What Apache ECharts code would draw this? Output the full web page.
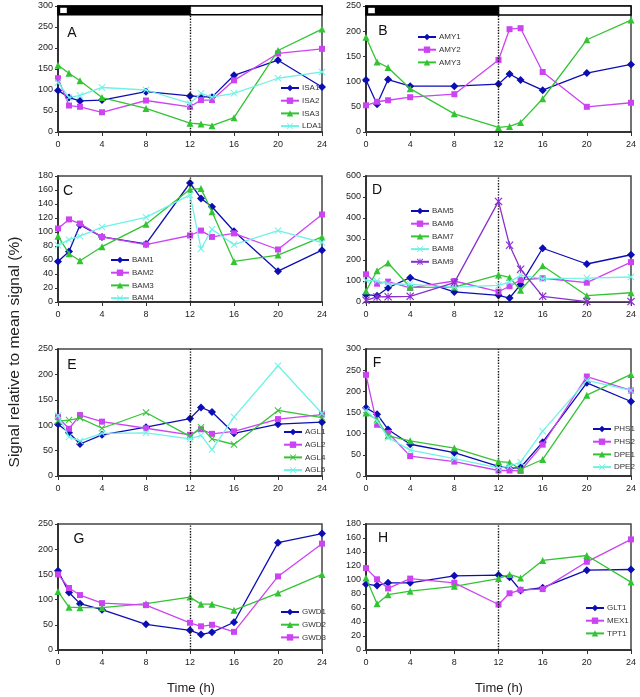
<!DOCTYPE html>
<html>
<head>
<meta charset="utf-8">
<script src="https://cdn.jsdelivr.net/npm/echarts@6/dist/echarts.min.js"></script>
<style>
html,body{margin:0;padding:0;background:#fff;}
#chart{width:640px;height:697px;}
</style>
</head>
<body>
<div id="chart"></div>
<script>
// ---------- data ----------
const hours = [0, 1, 2, 4, 8, 12, 13, 14, 16, 20, 24];
const xTicks = [0, 4, 8, 12, 16, 20, 24];

// Panel A
const ISA1 = [99, 82, 74, 76, 96, 86, 84, 83, 135, 171, 107];
const ISA2 = [128, 63, 60, 47, 75, 60, 76, 76, 123, 187, 198];
const ISA3 = [159, 140, 122, 82, 56, 21, 19, 15, 34, 194, 245];
const LDA1 = [118, 82, 87, 106, 100, 68, 92, 83, 92, 128, 143];
// Panel B
const AMY1 = [103, 55, 104, 91, 91, 95, 115, 103, 83, 117, 134];
const AMY2 = [53, 60, 63, 69, 75, 143, 204, 206, 119, 50, 58];
const AMY3 = [188, 139, 128, 86, 36, 9, 11, 19, 66, 183, 222];
// Panel C
const BAM1 = [58, 72, 110, 93, 83, 170, 148, 136, 101, 44, 74];
const BAM2 = [105, 118, 112, 93, 82, 95, 102, 93, 98, 75, 125];
const BAM3 = [94, 69, 59, 79, 111, 161, 162, 129, 58, 67, 93];
const BAM4 = [81, 89, 94, 107, 121, 153, 76, 104, 82, 102, 85];
// Panel D
const BAM5 = [35, 30, 68, 116, 48, 32, 19, 83, 256, 181, 225];
const BAM6 = [132, 87, 97, 67, 100, 49, 75, 105, 113, 92, 190];
const BAM7 = [52, 149, 186, 70, 71, 129, 117, 56, 173, 30, 44];
const BAM8 = [103, 100, 87, 84, 71, 79, 95, 127, 111, 114, 119];
const BAM9 = [8, 24, 25, 27, 92, 479, 270, 156, 27, 2, 2];
// Panel E
const AGL1 = [102, 85, 63, 81, 96, 113, 135, 126, 84, 102, 106];
const AGL2 = [116, 93, 120, 107, 94, 81, 92, 83, 88, 112, 121];
const AGL4 = [108, 110, 114, 94, 125, 78, 96, 73, 62, 129, 115];
const AGL5 = [119, 77, 69, 84, 85, 73, 80, 52, 116, 217, 123];
// Panel F
const PHS1 = [161, 146, 110, 75, 55, 23, 18, 20, 80, 220, 176];
const PHS2 = [239, 121, 102, 47, 34, 13, 13, 12, 74, 235, 202];
const DPE1 = [149, 133, 95, 83, 66, 34, 32, 16, 39, 191, 240];
const DPE2 = [155, 130, 91, 61, 41, 19, 23, 33, 106, 226, 202];
// Panel G
const GWD1 = [157, 114, 92, 80, 51, 39, 31, 35, 55, 213, 231];
const GWD2 = [116, 85, 84, 84, 92, 105, 91, 91, 79, 113, 150];
const GWD3 = [150, 123, 109, 93, 89, 54, 47, 50, 36, 146, 211];
// Panel H
const GLT1 = [94, 92, 96, 96, 106, 107, 104, 85, 89, 114, 115];
const MEX1 = [117, 101, 88, 102, 96, 65, 81, 86, 87, 126, 158];
const TPT1 = [103, 66, 79, 84, 91, 102, 108, 103, 128, 135, 97];

// dark / light period bar (hours) for panels A and B
const darkPeriod = [0, 12];
const lightPeriod = [12, 24];

// y-axis ranges per panel
const yMax = [300, 250, 180, 600, 250, 300, 250, 180];
const yStep = [50, 50, 20, 100, 50, 50, 50, 20];
const letters = ['A', 'B', 'C', 'D', 'E', 'F', 'G', 'H'];

const panels = [
  [['ISA1', ISA1], ['ISA2', ISA2], ['ISA3', ISA3], ['LDA1', LDA1]],
  [['AMY1', AMY1], ['AMY2', AMY2], ['AMY3', AMY3]],
  [['BAM1', BAM1], ['BAM2', BAM2], ['BAM3', BAM3], ['BAM4', BAM4]],
  [['BAM5', BAM5], ['BAM6', BAM6], ['BAM7', BAM7], ['BAM8', BAM8], ['BAM9', BAM9]],
  [['AGL1', AGL1], ['AGL2', AGL2], ['AGL4', AGL4], ['AGL5', AGL5]],
  [['PHS1', PHS1], ['PHS2', PHS2], ['DPE1', DPE1], ['DPE2', DPE2]],
  [['GWD1', GWD1], ['GWD2', GWD2], ['GWD3', GWD3]],
  [['GLT1', GLT1], ['MEX1', MEX1], ['TPT1', TPT1]]
];

// ---------- styles ----------
const XPATH = 'path://M0,1L1,0L5,4L9,0L10,1L6,5L10,9L9,10L5,6L1,10L0,9L4,5Z';
const STARPATH = 'path://M0,1L1,0L5,4L9,0L10,1L6,5L10,9L9,10L5,6L1,10L0,9L4,5Z M4.4,0L5.6,0L5.6,10L4.4,10Z';
const STY = {
  blue:    {color: '#0d0db4', symbol: 'diamond',  size: 8},
  magenta: {color: '#cc44f2', symbol: 'rect',     size: 6},
  green:   {color: '#33c433', symbol: 'triangle', size: 7},
  cyanx:   {color: '#6ff2e6', symbol: XPATH,      size: 7},
  greenx:  {color: '#33c433', symbol: XPATH,      size: 7},
  purple:  {color: '#8a2fcf', symbol: STARPATH,   size: 8}
};
const panelStyles = [
  ['blue', 'magenta', 'green', 'cyanx'],
  ['blue', 'magenta', 'green'],
  ['blue', 'magenta', 'green', 'cyanx'],
  ['blue', 'magenta', 'green', 'cyanx', 'purple'],
  ['blue', 'magenta', 'greenx', 'cyanx'],
  ['blue', 'magenta', 'green', 'cyanx'],
  ['blue', 'green', 'magenta'],
  ['blue', 'magenta', 'green']
];

const grids = [
  {left: 58, top: 6, width: 264, height: 126},
  {left: 366, top: 6, width: 265, height: 126},
  {left: 58, top: 176, width: 264, height: 126},
  {left: 366, top: 176, width: 265, height: 126},
  {left: 58, top: 349, width: 264, height: 127},
  {left: 366, top: 349, width: 265, height: 127},
  {left: 58, top: 524, width: 264, height: 126},
  {left: 366, top: 524, width: 265, height: 126}
];
const legendPos = [
  {left: 280, top: 84}, {left: 417, top: 33},
  {left: 110, top: 256}, {left: 410, top: 207},
  {left: 283, top: 428}, {left: 592, top: 425},
  {left: 280, top: 608}, {left: 585, top: 604}
];
const letterPos = [[72, 33], [383, 31], [68, 191], [377, 190], [72, 365], [377, 363], [79, 539], [383, 538]];

const axisFont = {fontFamily: 'Liberation Sans, Arial, sans-serif', fontSize: 9, color: '#222'};

const option = {
  animation: false,
  backgroundColor: '#fff',
  grid: [], xAxis: [], yAxis: [], series: [], legend: [],
  graphic: []
};

panels.forEach((pl, p) => {
  option.grid.push(Object.assign({show: true, borderColor: '#444', borderWidth: 1.5, containLabel: false}, grids[p]));
  option.xAxis.push({
    type: 'value', gridIndex: p, min: 0, max: 24, interval: 4,
    axisLine: {show: true, onZero: false, lineStyle: {color: '#333', width: 2}},
    axisTick: {show: true, inside: false, length: 4, lineStyle: {color: '#333'}},
    axisLabel: Object.assign({margin: 8, formatter: v => xTicks.includes(v) ? String(v) : ''}, axisFont),
    splitLine: {show: false}
  });
  option.yAxis.push({
    type: 'value', gridIndex: p, min: 0, max: yMax[p], interval: yStep[p],
    axisLine: {show: true, onZero: false, lineStyle: {color: '#333', width: 2}},
    axisTick: {show: true, inside: false, length: 3, lineStyle: {color: '#333'}},
    axisLabel: Object.assign({margin: 5}, axisFont),
    splitLine: {show: false}
  });
  const names = [];
  pl.forEach(([name, arr], k) => {
    const st = STY[panelStyles[p][k]];
    names.push(name);
    const s = {
      type: 'line', name: name, xAxisIndex: p, yAxisIndex: p,
      data: hours.map((h, i) => [h, arr[i]]),
      symbol: st.symbol, symbolSize: st.size, showSymbol: true,
      lineStyle: {color: st.color, width: 1.3},
      itemStyle: {color: st.color},
      z: 3 + k
    };
    if (k === 0) {
      s.markLine = {
        silent: true, symbol: ['none', 'none'], label: {show: false},
        lineStyle: {type: 'dotted', color: '#111', width: 1.4},
        data: [{xAxis: 12}]
      };
      if (p === 0 || p === 1) {
        const top = yMax[p];
        const bot = top - (p === 0 ? 21 : 18);
        s.markArea = {
          silent: true, label: {show: false},
          data: [
            [{xAxis: darkPeriod[0], yAxis: bot, itemStyle: {color: '#000', borderColor: '#000', borderWidth: 1.5}},
             {xAxis: darkPeriod[1], yAxis: top}],
            [{xAxis: lightPeriod[0], yAxis: bot, itemStyle: {color: '#fff', borderColor: '#000', borderWidth: 1.5}},
             {xAxis: lightPeriod[1], yAxis: top}],
            [{xAxis: 0.2, yAxis: bot + (top - bot) * 0.2, itemStyle: {color: '#fff', borderColor: '#fff', borderWidth: 0}},
             {xAxis: 0.8, yAxis: top - (top - bot) * 0.2}]
          ]
        };
      }
    }
    option.series.push(s);
  });
  option.legend.push(Object.assign({
    orient: 'vertical', data: names, padding: 0,
    itemWidth: 18, itemHeight: 8, itemGap: 4.7,
    textStyle: {fontFamily: 'Liberation Sans, Arial, sans-serif', fontSize: 8, color: '#333', padding: [0, 0, 0, -2]},
    selectedMode: false
  }, legendPos[p]));
  option.graphic.push({
    type: 'text', x: letterPos[p][0], y: letterPos[p][1], z: 10,
    style: {text: letters[p], fontFamily: 'Liberation Sans, Arial, sans-serif', fontSize: 14, fill: '#111',
            textAlign: 'center', textVerticalAlign: 'middle'}
  });
});

option.graphic.push({
  type: 'text', x: 15, y: 352, rotation: Math.PI / 2, z: 10,
  style: {text: 'Signal relative to mean signal (%)', fontFamily: 'Liberation Sans, Arial, sans-serif',
          fontSize: 15.5, fill: '#222', textAlign: 'center', textVerticalAlign: 'middle'}
});
option.graphic.push({
  type: 'text', x: 191, y: 688, z: 10,
  style: {text: 'Time (h)', fontFamily: 'Liberation Sans, Arial, sans-serif',
          fontSize: 13, fill: '#222', textAlign: 'center', textVerticalAlign: 'middle'}
});
option.graphic.push({
  type: 'text', x: 499, y: 688, z: 10,
  style: {text: 'Time (h)', fontFamily: 'Liberation Sans, Arial, sans-serif',
          fontSize: 13, fill: '#222', textAlign: 'center', textVerticalAlign: 'middle'}
});

const chart = echarts.init(document.getElementById('chart'), null, {renderer: 'canvas'});
chart.setOption(option);
</script>
</body>
</html>
